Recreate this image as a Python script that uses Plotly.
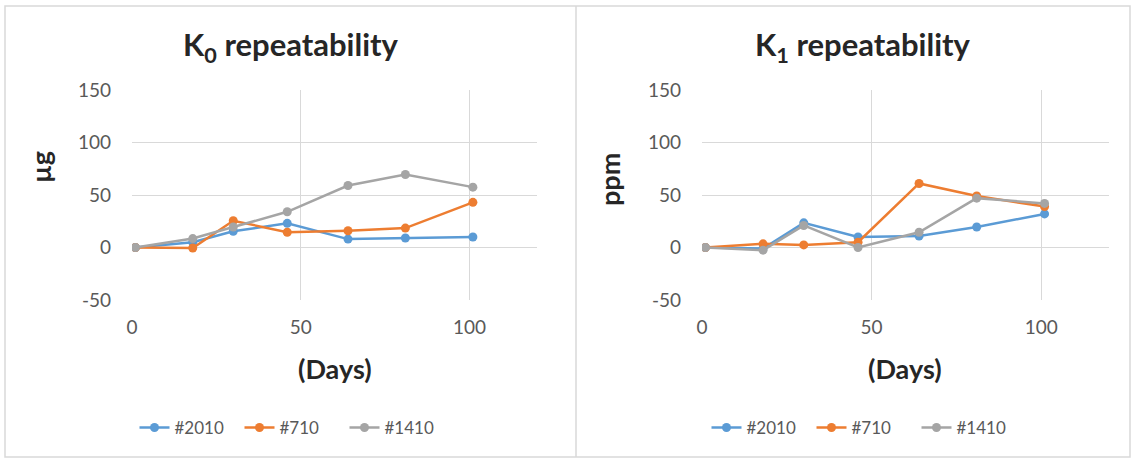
import plotly.graph_objects as go

days = [1, 18, 30, 46, 64, 81, 101]
series_names = ["#2010", "#710", "#1410"]
colors = ["#5B9BD5", "#ED7D31", "#A5A5A5"]

k0_2010 = [0, 5, 15.5, 23, 8, 9, 10]
k0_710 = [0, -0.5, 25.5, 14.5, 16, 18.5, 43]
k0_1410 = [0, 8.5, 19.5, 34, 59, 69.5, 57.5]

k1_2010 = [0, -1, 23.5, 10, 11, 19.5, 32]
k1_710 = [0, 3.5, 2.5, 5, 61, 49, 39]
k1_1410 = [0, -2.5, 21, 0, 14.5, 47, 42]

y_tickvals = [-50, 0, 50, 100, 150]
y_ticktext = ["-50", "0", "50", "100", "150"]
x_tickvals = [0, 50, 100]
x_ticktext = ["0", "50", "100"]

FONT = "Lato"
W, H = 1137, 459

fig = go.Figure()

left = [k0_2010, k0_710, k0_1410]
right = [k1_2010, k1_710, k1_1410]

for i, (name, ys) in enumerate(zip(series_names, left)):
    fig.add_trace(go.Scatter(x=days, y=ys, name=name, mode="lines+markers",
                             line=dict(color=colors[i], width=2.5),
                             marker=dict(color=colors[i], size=9),
                             xaxis="x", yaxis="y", legend="legend"))
for i, (name, ys) in enumerate(zip(series_names, right)):
    fig.add_trace(go.Scatter(x=days, y=ys, name=name, mode="lines+markers",
                             line=dict(color=colors[i], width=2.5),
                             marker=dict(color=colors[i], size=9),
                             xaxis="x2", yaxis="y2", legend="legend2"))

def px(x):
    return x / W

def py(y):
    return 1 - y / H

grid = "#D9D9D9"
tickfont = dict(family=FONT, size=19, color="#595959")

xcommon = dict(range=[0, 120], tickmode="array", tickvals=x_tickvals, ticktext=x_ticktext,
               showgrid=True, gridcolor=grid, gridwidth=1, automargin=False,
               zeroline=False, showline=False, tickfont=tickfont, ticks="", ticklabelstandoff=14)
ycommon = dict(range=[-50, 150], tickmode="array", tickvals=y_tickvals, ticktext=y_ticktext,
               showgrid=True, gridcolor=grid, gridwidth=1, automargin=False,
               zeroline=True, zerolinecolor=grid, zerolinewidth=1, showline=False,
               tickfont=tickfont, ticks="", ticklabelstandoff=20)

legfont = dict(family=FONT, size=17, color="#595959")
ydom = [py(300), py(90)]
fig.update_layout(
    width=W, height=H,
    margin=dict(l=0, r=0, t=0, b=0, pad=0, autoexpand=False),
    paper_bgcolor="white", plot_bgcolor="white",
    xaxis=dict(domain=[px(132), px(537)], anchor="y", **xcommon),
    yaxis=dict(domain=ydom, anchor="x", **ycommon),
    xaxis2=dict(domain=[px(702), px(1109)], anchor="y2", **xcommon),
    yaxis2=dict(domain=ydom, anchor="x2", **ycommon),
    legend=dict(orientation="h", x=px(292), xanchor="center", y=py(428), yanchor="middle",
                font=legfont, bgcolor="rgba(0,0,0,0)", entrywidth=60),
    legend2=dict(orientation="h", x=px(864), xanchor="center", y=py(428), yanchor="middle",
                 font=legfont, bgcolor="rgba(0,0,0,0)", entrywidth=60),
    showlegend=True,
)

annots = [
    dict(text="<b>K<sub>0</sub> repeatability</b>", x=px(291), y=py(46), size=31),
    dict(text="<b>K<sub>1</sub> repeatability</b>", x=px(863), y=py(46), size=31),
    dict(text="<b>(Days)</b>", x=px(335), y=py(368), size=27),
    dict(text="<b>(Days)</b>", x=px(905), y=py(368), size=27),
]
for a in annots:
    fig.add_annotation(text=a["text"], x=a["x"], y=a["y"], xref="paper", yref="paper",
                       xanchor="center", yanchor="middle", showarrow=False,
                       font=dict(family=FONT, size=a["size"], color="#262626"))
for txt, x, y in [("<b>µg</b>", 40, 167), ("<b>ppm</b>", 610, 180)]:
    fig.add_annotation(text=txt, x=px(x), y=py(y), xref="paper", yref="paper",
                       xanchor="center", yanchor="middle", showarrow=False, textangle=-90,
                       font=dict(family=FONT, size=27, color="#262626"))

# chart frames
fig.add_shape(type="rect", xref="paper", yref="paper", x0=px(5), x1=px(1130), y0=py(457), y1=py(6),
              line=dict(color="#D9D9D9", width=1.5))
fig.add_shape(type="line", xref="paper", yref="paper", x0=px(576), x1=px(576), y0=py(457), y1=py(6),
              line=dict(color="#D9D9D9", width=1.5))

fig.write_html("out.html")
